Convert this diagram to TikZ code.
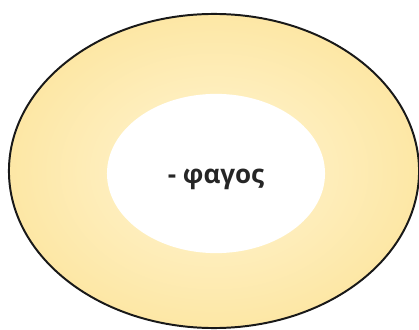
\documentclass[tikz,border=0pt]{standalone}
\usepackage{fontspec}
\setsansfont{Open Sans}
\usetikzlibrary{shapes.geometric}

\definecolor{ringedge}{RGB}{253,231,165}
\definecolor{ringmid}{RGB}{255,245,212}

\begin{document}
\begin{tikzpicture}[
  x=0.025cm, y=0.025cm,
  font=\sffamily\bfseries,
  ring/.style={draw=black!90, line width=1.4pt, ellipse, inner sep=0pt,
    inner color=ringmid, outer color=ringedge},
  core/.style={ellipse, fill=white, inner sep=0pt},
  word/.style={font=\sffamily\bfseries\fontsize{18.5}{20}\selectfont, text=black!85},
]
\clip (0,0) rectangle (419,329);
\useasboundingbox (0,0) rectangle (419,329);

% outer ring
\node[ring, minimum width=10.25cm, minimum height=7.85cm] (outer) at (214,158) {};

% inner white field
\node[core, minimum width=5.45cm, minimum height=3.98cm] (inner) at (216,155.5) {};

% label
\node[word] (suffix) at (216,150) {- φαγος};

\end{tikzpicture}
\end{document}
